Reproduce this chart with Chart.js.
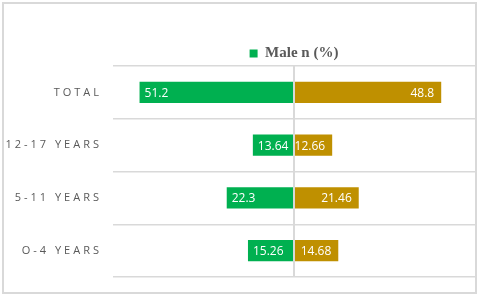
<!DOCTYPE html>
<html>
<head>
<meta charset="utf-8">
<script src="https://cdn.jsdelivr.net/npm/chart.js@4/dist/chart.umd.min.js"></script>
<style>
  body { margin: 0; background: #ffffff; }
  #frame {
    position: absolute;
    left: 2px;
    top: 2px;
    width: 471px;
    height: 288px;
    border: 2px solid #d9d9d9;
  }
  canvas { display: block; }
</style>
</head>
<body>
<div id="frame"><canvas id="chart" width="471" height="288"></canvas></div>
<script>
var categories = ["TOTAL", "12-17 YEARS", "5-11 YEARS", "O-4 YEARS"];
var male = [51.2, 13.64, 22.3, 15.26];
var female = [48.8, 12.66, 21.46, 14.68];

var green = "#00b050";
var gold = "#bf9000";
var grey = "#595959";
var line = "#d9d9d9";

// y labels are letter-spaced in the original
var spacedLabels = {
  id: "spacedLabels",
  beforeDraw: function (chart) {
    var scale = chart.scales.y;
    if (scale.__spaced) return;
    var orig = scale.drawLabels;
    scale.drawLabels = function (area) {
      var c = this.ctx;
      c.save();
      c.letterSpacing = "3px";
      orig.call(this, area);
      c.restore();
    };
    scale.__spaced = true;
  },
};

// white values inside the bar ends
var barValues = {
  id: "barValues",
  afterDatasetsDraw: function (chart) {
    var ctx = chart.ctx;
    ctx.save();
    ctx.font = "12px 'Open Sans'";
    ctx.fillStyle = "#ffffff";
    ctx.textBaseline = "middle";
    chart.data.datasets.forEach(function (ds, i) {
      var meta = chart.getDatasetMeta(i);
      meta.data.forEach(function (bar, j) {
        var txt = String(Math.abs(ds.data[j]));
        if (bar.x < bar.base) {
          ctx.textAlign = "left";
          ctx.fillText(txt, bar.x + 5, bar.y + 1);
        } else {
          ctx.textAlign = "right";
          ctx.fillText(txt, bar.x - 7, bar.y + 1);
        }
      });
    });
    ctx.restore();
  },
};

var config = {
  type: "bar",
  data: {
    labels: categories,
    datasets: [
      {
        label: "Male n (%)",
        data: male.map(function (v) { return -v; }),
        backgroundColor: green,
      },
      {
        label: "Female n (%)",
        data: female,
        backgroundColor: gold,
      },
    ],
  },
  options: {
    indexAxis: "y",
    responsive: false,
    animation: false,
    categoryPercentage: 1,
    barPercentage: 0.4,
    layout: { padding: { top: 34, bottom: 15, left: 0, right: 0 } },
    plugins: {
      tooltip: { enabled: false },
      legend: {
        position: "top",
        fullSize: false,
        maxHeight: 28,
        labels: {
          boxWidth: 8,
          boxHeight: 8,
          padding: 8,
          color: grey,
          font: { family: "'Liberation Serif'", size: 15, weight: "bold" },
          filter: function (item) { return item.datasetIndex === 0; },
        },
      },
    },
    scales: {
      x: {
        stacked: true,
        min: -60,
        max: 60,
        ticks: { display: false, stepSize: 20 },
        border: { display: false },
        grid: {
          z: 1,
          drawTicks: false,
          lineWidth: 2,
          color: function (c) {
            return c.tick && c.tick.value === 0 ? line : "rgba(0,0,0,0)";
          },
        },
      },
      y: {
        stacked: true,
        border: { display: false },
        grid: { offset: true, drawTicks: false, color: line, lineWidth: 1.5 },
        ticks: {
          padding: 11,
          color: grey,
          font: { family: "'Open Sans'", size: 11 },
        },
        afterFit: function (scale) {
          scale.width = 109;
          scale.paddingTop = 0;
          scale.paddingBottom = 0;
        },
      },
    },
  },
  plugins: [spacedLabels, barValues],
};

var ctx = document.getElementById("chart").getContext("2d");
new Chart(ctx, config);
</script>
</body>
</html>
